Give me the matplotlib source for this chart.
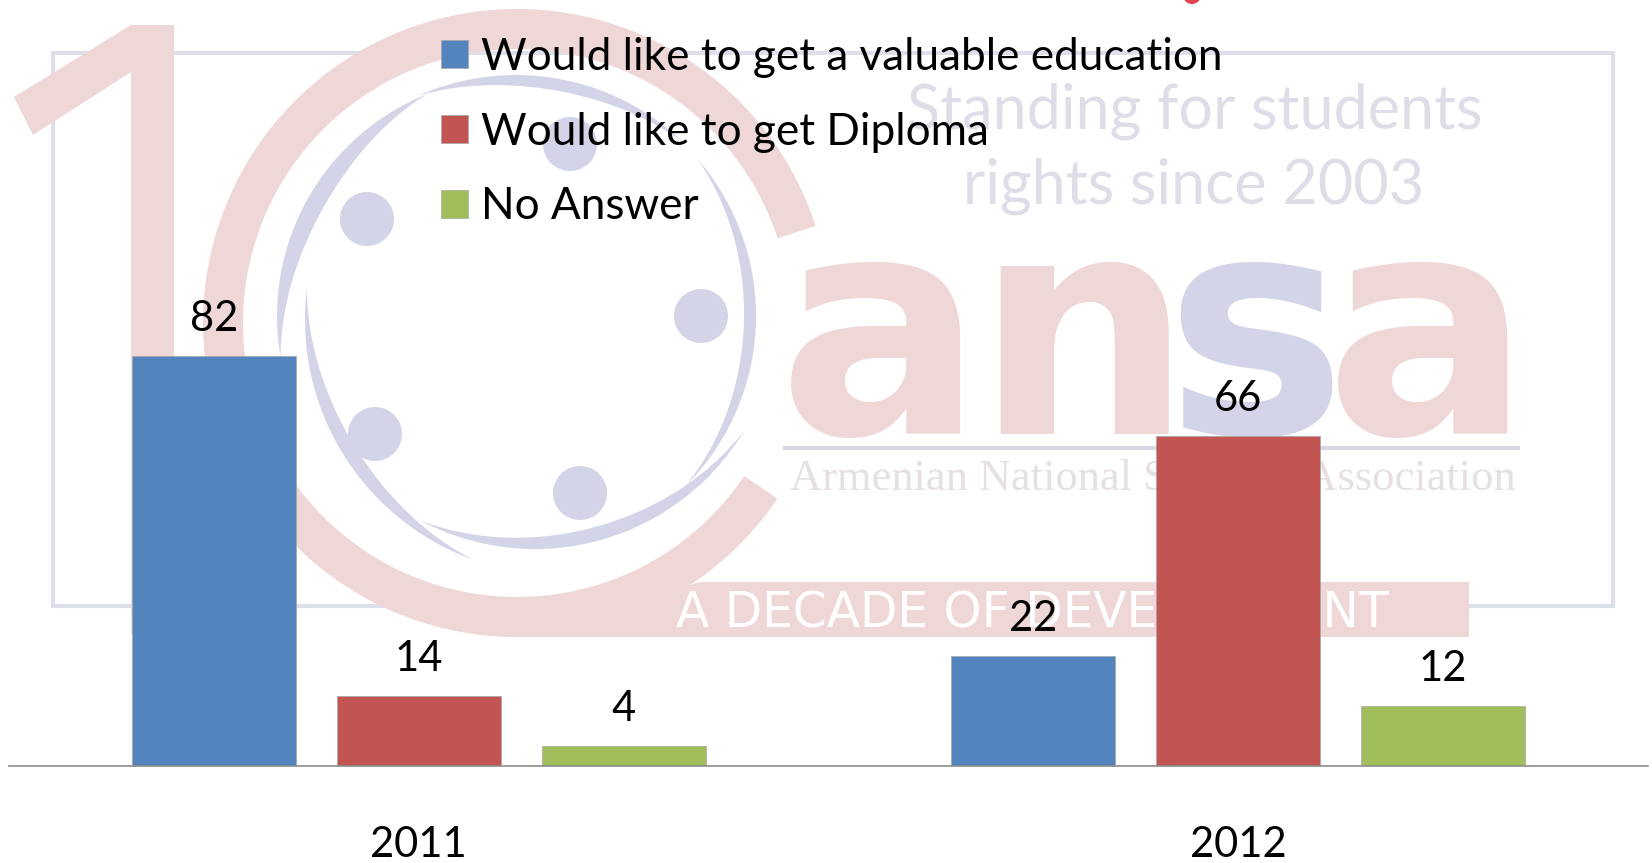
import numpy as np
import matplotlib
matplotlib.use("Agg")
import matplotlib.pyplot as plt
from matplotlib.patches import Circle, Polygon, Rectangle, Wedge

years = ["2011", "2012"]
labels = ["Would like to get a valuable education", "Would like to get Diploma", "No Answer"]
education = [82, 22]
diploma = [14, 66]
no_answer = [4, 12]
colors = ["#5384BE", "#C25551", "#A0BE5B"]

W, H = 1652, 863
PINK = "#EFD6D7"
LILAC = "#D3D4E8"

plt.rcParams["font.family"] = ["Lato", "DejaVu Sans"]
fig = plt.figure(figsize=(W / 100, H / 100), dpi=100)

# watermark lives on its own axes, in image pixels
bg = fig.add_axes([0, 0, 1, 1], zorder=0)
bg.set_xlim(0, W)
bg.set_ylim(H, 0)
bg.axis("off")


def crescent(cx, cy, r, a0, a1, width, color=LILAC):
    # thin swoosh, widest in the middle
    t = np.linspace(a0, a1, 80)
    w = width * np.sin(np.linspace(0, np.pi, 80))
    rad = np.radians(t)
    outer = np.c_[cx + r * np.cos(rad), cy + r * np.sin(rad)]
    inner = np.c_[cx + (r - w) * np.cos(rad), cy + (r - w) * np.sin(rad)]
    bg.add_patch(Polygon(np.vstack([outer, inner[::-1]]), fc=color, ec="none"))


bg.add_patch(Rectangle((53, 53), 1560, 553, fc="none", ec="#DDE0EA", lw=3))

# the big "10"
bg.add_patch(Polygon([(131, 25), (174, 25), (174, 634), (131, 634), (131, 72), (33, 135), (14, 97)],
                     fc=PINK, ec="none"))
bg.add_patch(Wedge((517, 323), 314, 34, 342, width=40, fc=PINK, ec="none"))
bg.add_patch(Polygon([(700, 582), (1469, 582), (1469, 637), (517, 637)], fc=PINK, ec="none"))

crescent(516, 316, 241, -114, -46, 12)
crescent(516, 316, 240, -41, 45, 12)
crescent(535, 305, 244, 31, 118, 14)
crescent(516, 316, 239, 170, 248, 18)
crescent(560, 320, 255, 187, 110, 14)
for cx, cy in [(570, 144), (367, 219), (701, 316), (375, 434), (580, 493)]:
    bg.add_patch(Circle((cx, cy), 27, fc=LILAC, ec="none"))

# ansa logotype
for ch, xc, col in [("a", 881, PINK), ("n", 1083, PINK), ("s", 1255, LILAC), ("a", 1428, PINK)]:
    bg.text(xc, 434, ch, color=col, family="DejaVu Sans", weight="bold", fontsize=220,
            ha="center", va="baseline")
bg.plot([785, 1518], [448, 448], color="#D9D7E2", lw=3)
bg.text(1153, 479, "Armenian National Students Association", color="#E6DFE3",
        family="Liberation Serif", fontsize=32, ha="center", va="center")
bg.text(1195, 111, "Standing for students", color="#DEDEE8", family="Lato",
        fontsize=44, ha="center", va="center")
bg.text(1194, 186, "rights since 2003", color="#DEDEE8", family="Lato",
        fontsize=44, ha="center", va="center")
bg.text(1032, 613, "A DECADE OF DEVELOPMENT", color="white", family="DejaVu Sans",
        fontsize=35, ha="center", va="center")
bg.add_patch(Wedge((1192, -5), 9, 0, 180, fc="#E0434B", ec="none"))

# chart
ax = fig.add_axes([9 / W, (H - 766) / H, (1648 - 9) / W, 766 / H], zorder=1)
ax.patch.set_visible(False)

x = np.arange(len(years))
series = [education, diploma, no_answer]
handles = []
for i, vals in enumerate(series):
    b = ax.bar(x + (i - 1) * 0.25, vals, 0.2, color=colors[i], edgecolor="#A6A6A6", linewidth=0.5,
               label=labels[i])
    ax.bar_label(b, padding=13, fontsize=30, color="black")
    handles.append(b)

ax.set_xlim(-0.5, 1.5)
ax.set_ylim(0, 153.2)
ax.set_xticks(x)
ax.set_xticklabels(years, fontsize=30)
ax.tick_params(axis="x", length=0, pad=43)
ax.set_yticks([])
for s in ["left", "right", "top"]:
    ax.spines[s].set_visible(False)
ax.spines["bottom"].set_color("#8C8C8C")
ax.spines["bottom"].set_linewidth(1.2)

fig.legend(handles=handles, loc="upper left", bbox_to_anchor=(441 / W, 1 - 37 / H), frameon=False,
           fontsize=31.8, handlelength=0.6, handleheight=0.6, handletextpad=0.3,
           labelspacing=0.76, borderpad=0, borderaxespad=0)

fig.savefig("out.png", dpi=100)
